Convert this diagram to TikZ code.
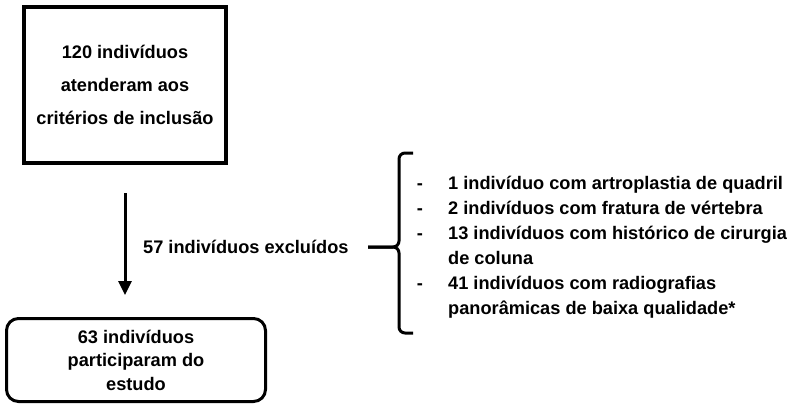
\documentclass[tikz,border=0pt]{standalone}
\usepackage{fontspec}
\setmainfont{Liberation Sans}
\usetikzlibrary{arrows.meta,positioning,calc}

\begin{document}
\begin{tikzpicture}[x=1pt, y=1pt,
  bx/.style={draw, rectangle, align=center, inner sep=0pt},
  itm/.style={anchor=base west, inner sep=0pt, font=\bfseries\fontsize{18.2}{25}\selectfont},
  dsh/.style={anchor=base, inner sep=0pt, font=\bfseries\fontsize{18.2}{25}\selectfont},
]
\useasboundingbox (0,0) rectangle (800,-413);
\node[bx, line width=4pt, minimum width=202pt, minimum height=156pt, font=\bfseries\fontsize{18.2}{33}\selectfont] (l1) at (125,-85) {120 indivíduos\\atenderam aos\\critérios de inclusão};
\node[bx, line width=3pt, rounded corners=12pt, minimum width=259pt, minimum height=83pt, font=\bfseries\fontsize{18.2}{23.5}\selectfont] (l2) at (136,-360) {63 indivíduos\\participaram do\\estudo};
\draw[-{Triangle[width=13pt,length=14pt]}, line width=3pt, shorten <=28pt, shorten >=22pt] (l1.south) -- (l1.south |- l2.north);
\node[anchor=west, inner sep=0pt, font=\bfseries\fontsize{18.2}{23}\selectfont] (ex) at (143,-247) {57 indivíduos excluídos};
% chave
\coordinate (bt) at (399,-247);
\draw[line width=3pt, rounded corners=6pt] (413,-153) -- (399,-153) -- (bt) -- (368,-247);
\draw[line width=3pt, rounded corners=6pt] (413,-333) -- (399,-333) -- (bt) -- (368,-247);
% motivos
\node[dsh] (d1) at (420,-189) {-};
\node[dsh] (d2) at (420,-214) {-};
\node[dsh] (d3) at (420,-239) {-};
\node[dsh] (d4) at (420,-289) {-};
\node[itm] (t1) at (448,-189) {1 indivíduo com artroplastia de quadril};
\node[itm] (t2) at (448,-214) {2 indivíduos com fratura de vértebra};
\node[itm] (t3) at (448,-239) {13 indivíduos com histórico de cirurgia};
\node[itm] (t3b) at (448,-264) {de coluna};
\node[itm] (t4) at (448,-289) {41 indivíduos com radiografias};
\node[itm] (t4b) at (448,-314) {panorâmicas de baixa qualidade*};
\end{tikzpicture}
\end{document}
